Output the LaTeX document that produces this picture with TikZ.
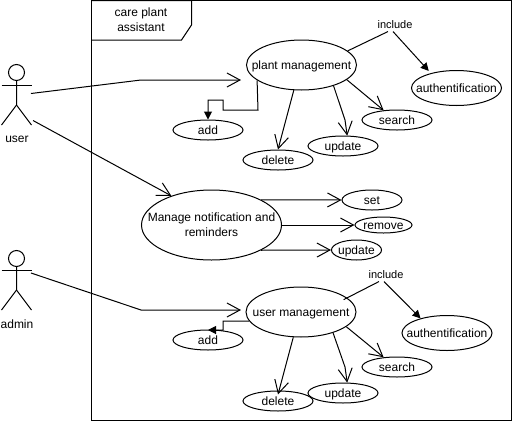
\documentclass[tikz,border=0pt]{standalone}
\usepackage{fontspec}
\setmainfont{Liberation Sans}
\usetikzlibrary{arrows.meta,shapes.geometric}
\tikzset{
	casenode/.style={draw, ellipse, inner xsep=-20pt, inner ysep=-3pt, align=center},
	smallcase/.style={casenode, text height=8.5pt, text depth=0.5pt, minimum width=70pt, minimum height=20pt},
	bigcase/.style={casenode, text height=8.5pt, text depth=0.5pt, minimum width=110pt, minimum height=50pt},
	authcase/.style={casenode, text height=8.5pt, text depth=0.5pt, minimum width=90pt, minimum height=35pt},
	actorhead/.style={draw, circle, inner sep=0pt, minimum size=16pt},
	plaintext/.style={inner sep=0pt, align=center},
	includetext/.style={inner sep=1pt, font=\fontsize{11}{13}\selectfont},
	openarrow/.style={-{Straight Barb[length=13pt,width=14pt]}},
	fillarrow/.style={-{Triangle[length=8pt,width=8pt]}}
}
\begin{document}
\begin{tikzpicture}[x=1pt, y=-1pt, line width=1pt, font=\fontsize{12}{15}\selectfont]
	\useasboundingbox (0,0) rectangle (512,421);

	\draw (91.5,0.5) rectangle (511,420);
	\draw (91.5,0.5) -- (191.5,0.5) -- (191.5,25) -- (181.5,40) -- (91.5,40);
	\node [plaintext] (tabtitle) at (141,20) {care plant\\assistant};

	\node [actorhead] (userhead) at (16.5,72.5) {};
	\draw (userhead.south) -- (16.5,105) -- (1.5,125);
	\draw (16.5,105) -- (31.5,125);
	\draw (1.5,85) -- (31.5,85);
	\node [plaintext] (userlabel) at (17,139.5) {user};
	\coordinate (userplant) at (31,93.5);
	\coordinate (usermanage) at (33,120.5);

	\node [actorhead] (adminhead) at (16.5,258.5) {};
	\draw (adminhead.south) -- (16.5,290) -- (1.5,310);
	\draw (16.5,290) -- (31.5,310);
	\draw (1.5,270.5) -- (31.5,270.5);
	\node [plaintext] (adminlabel) at (17,324) {admin};
	\coordinate (adminport) at (31,273);

	\node [bigcase] (plant) at (301.5,65) {plant management};
	\node [authcase] (auth) at (456.5,88) {authentification};
	\node [smallcase] (search) at (397,120) {search};
	\node [smallcase] (update) at (343,146) {update};
	\node [smallcase] (delete) at (278,160) {delete};
	\node [smallcase] (add) at (208,130) {add};
	\node [includetext] (include) at (395,25) {include};
	\coordinate (plantin) at (241,80);

	\node [casenode, text depth=0pt, minimum width=140pt, minimum height=70pt] (manage) at (211.5,225) {Manage notification and\\reminders};
	\node [smallcase, minimum width=60pt] (set) at (372,200) {set};
	\node [smallcase, minimum width=57pt, minimum height=16pt] (remove) at (383.5,225) {remove};
	\node [smallcase, minimum width=50pt] (notifyupdate) at (356.5,250) {update};

	\node [bigcase] (usermgmt) at (301,312) {user management};
	\node [authcase] (auth2) at (447,333) {authentification};
	\node [smallcase] (search2) at (397,367) {search};
	\node [smallcase] (update2) at (343,393) {update};
	\node [smallcase] (delete2) at (278,401) {delete};
	\node [smallcase] (add2) at (208,340) {add};
	\node [includetext] (include2) at (386,275) {include};
	\coordinate (usermgmtin) at (241,310);

	\draw [openarrow] (userplant) -- (141,80) -- (plantin);
	\draw [openarrow] (usermanage) -- (manage.144);
	\draw [openarrow] (adminport) -- (141,310) -- (usermgmtin);

	\draw [fillarrow] (plant.199) -- (258,110) -- (223,110) -- (223,100) -- (208,100) -- (add.north);
	\draw [openarrow] (plant.-107) -- (delete.north);
	\draw [openarrow] (plant.-33) -- (345,120) -- (update.68);
	\draw [openarrow] (plant.-18) -- (search.144);
	\draw (plant.17) -- ([xshift=-7pt,yshift=-1pt]include.south);
	\draw [fillarrow, shorten >=3pt] ([xshift=-2pt,yshift=-1pt]include.south) -- (auth.150);

	\draw [openarrow] (manage.27) -- (set.west);
	\draw [openarrow] (manage.east) -- (remove.west);
	\draw [openarrow] (manage.-27) -- (notifyupdate.west);

	\draw [fillarrow] (usermgmt.190) -- (223,321) -- (223,330) -- (208,330);
	\draw [openarrow] (usermgmt.-107) -- ([yshift=-4pt]delete2.north);
	\draw [openarrow] (usermgmt.-33) -- (345,367) -- (update2.68);
	\draw [openarrow] (usermgmt.-18) -- (search2.144);
	\draw ([yshift=-4pt]usermgmt.21) -- ([xshift=-7pt,yshift=-1pt]include2.south);
	\draw [fillarrow] ([xshift=-2pt,yshift=-1pt]include2.south) -- (auth2.151);

\end{tikzpicture}
\end{document}
